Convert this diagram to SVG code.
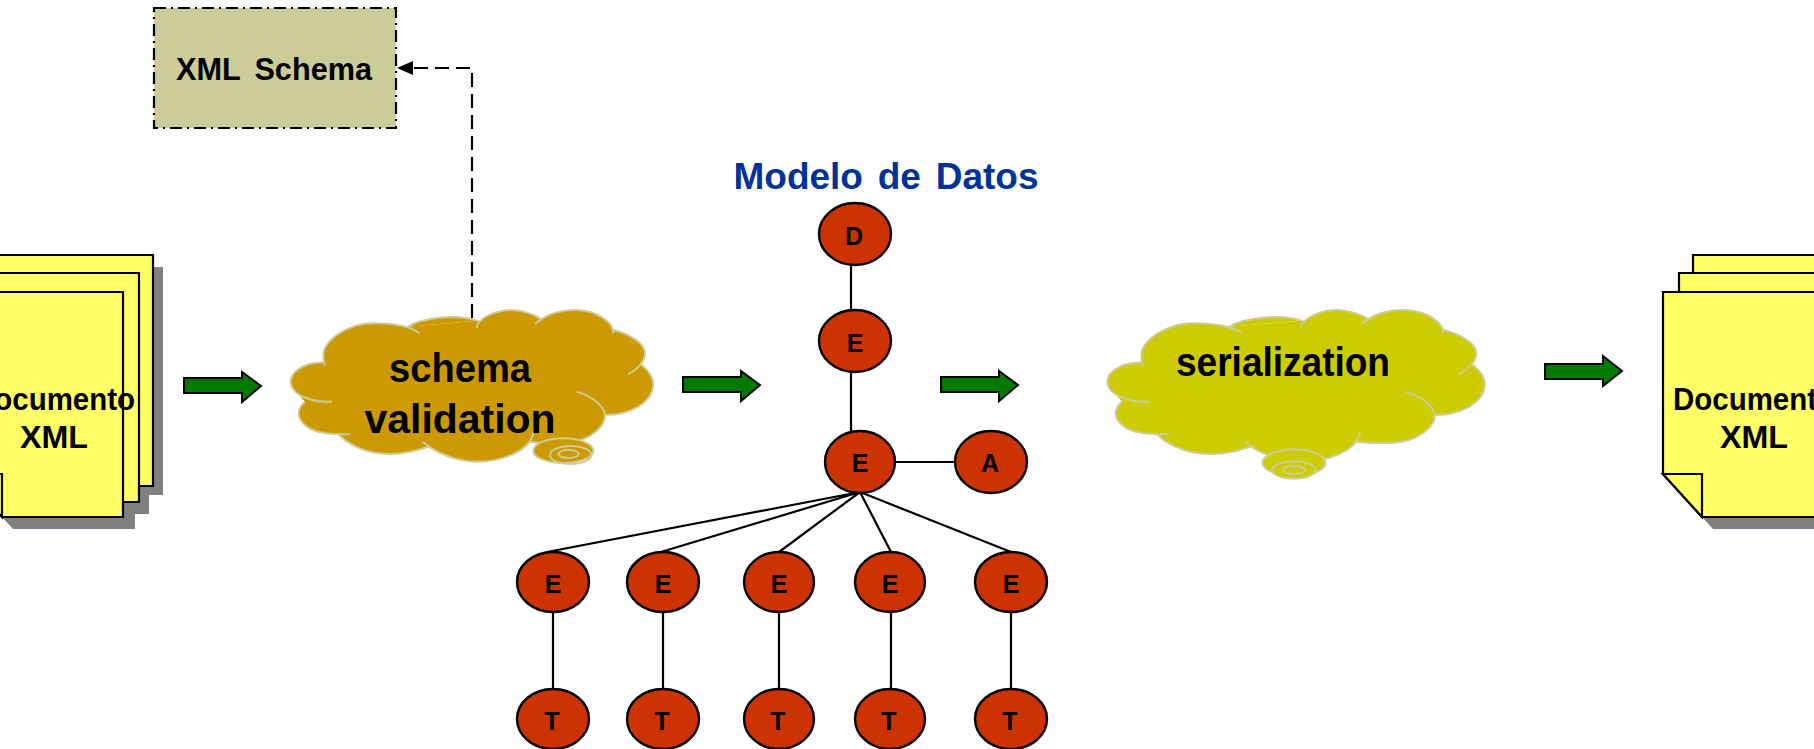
<svg xmlns="http://www.w3.org/2000/svg" xmlns:xlink="http://www.w3.org/1999/xlink" width="1814" height="749" viewBox="0 0 1814 749">
<style>
text{font-family:"Liberation Sans",Arial,sans-serif;font-weight:700;fill:#000;text-anchor:middle}
.sheet{fill:#ffff66;stroke:#000;stroke-width:2.2}
.shadow{fill:#808080}
.arrow{fill:#007a00;stroke:#000;stroke-width:2}
.node ellipse{fill:#cc3300;stroke:#000;stroke-width:2.4}
.node text{font-size:25px}
.doc{font-size:32px}
.big{font-size:40px}
.edge{stroke:#000;stroke-width:2.2;fill:none}
.cs{fill:none;stroke:#cccc99;stroke-width:6}
</style>
<defs>
<path id="cloudLine" d="M135 228C128 215 132 200 130 190C140 140 220 95 290 100C340 100 395 110 418 130M385 110C420 85 530 70 590 92M590 115C590 85 650 58 700 60C730 62 765 75 780 85M765 102C800 70 850 58 890 60C950 62 1000 95 1000 130M1000 120C1060 135 1095 165 1095 190C1095 215 1070 240 1045 252M1085 225C1110 245 1120 265 1120 285C1115 340 1050 375 975 375M890 305C940 320 975 350 975 378C975 410 930 445 890 452C860 460 800 462 750 455M760 425C755 480 670 515 590 515C530 515 470 490 428 455M445 470C390 490 340 495 300 490C250 485 200 460 175 432M210 432C160 435 100 430 75 405C50 385 50 355 75 335M155 335C100 338 50 320 35 290C20 250 70 215 135 218"/>
<path id="cloudCore" d="M135 225L130 190L385 110L590 92L780 85L1000 125L1085 225L1100 300L975 375L890 452L750 455L590 515L470 485L445 472L300 490L175 432L75 405L75 335L35 290Z"/>
</defs>

<g id="connectors">
<g class="edge">
<path d="M851 262V312M851 370V432M896 462H955"/>
<path d="M860 492L547 552M860 492L661 552M860 492L779 552M860 492L891 552M860 492L1011 552"/>
<path d="M553 612V690M663 612V690M779 612V690M891 612V690M1011 612V690"/>
</g>
<path d="M472 318V68H412" fill="none" stroke="#000" stroke-width="2.2" stroke-dasharray="14 7"/>
<polygon points="397,68 413,61 413,75" fill="#000"/>
<polygon id="arrow1" class="arrow" points="184,378 242,378 242,372 261,386 242,402 242,393 184,393"/>
<polygon id="arrow2" class="arrow" points="683,377 741,377 741,371 760,385 741,401 741,392 683,392"/>
<polygon id="arrow3" class="arrow" points="941,377 999,377 999,371 1018,385 999,401 999,392 941,392"/>
<polygon id="arrow4" class="arrow" points="1545,364 1603,364 1603,356 1622,371 1603,386 1603,379 1545,379"/>
</g>

<g id="docIn">
<g class="shadow">
<polygon points="3,267 163,267 163,495 42,495 3,450"/>
<polygon points="-10,285 149,285 149,514 29,514 -10,470"/>
<polygon points="-26,304 135,304 135,529 13,529 -26,486"/>
</g>
<path class="sheet" d="M-7 255H153V486H32L-7 442Z"/>
<path class="sheet" d="M-21 273H139V502H18L-21 458Z"/>
<path class="sheet" d="M-37 292H123V517H2L-37 474Z"/>
<path class="sheet" d="M-37 474H2V517Z"/>
<text class="doc" x="54" y="410" textLength="162" lengthAdjust="spacingAndGlyphs">Documento</text>
<text class="doc" x="54" y="448" textLength="68" lengthAdjust="spacingAndGlyphs">XML</text>
</g>

<g id="docOut">
<g class="shadow">
<polygon points="1703,267 1863,267 1863,495 1742,495 1703,450"/>
<polygon points="1690,285 1849,285 1849,514 1729,514 1690,470"/>
<polygon points="1674,304 1835,304 1835,529 1713,529 1674,486"/>
</g>
<path class="sheet" d="M1693 255H1853V486H1732L1693 442Z"/>
<path class="sheet" d="M1679 273H1839V502H1718L1679 458Z"/>
<path class="sheet" d="M1663 292H1823V517H1702L1663 474Z"/>
<path class="sheet" d="M1663 474H1702V517Z"/>
<text class="doc" x="1754" y="410" textLength="162" lengthAdjust="spacingAndGlyphs">Documento</text>
<text class="doc" x="1754" y="448" textLength="68" lengthAdjust="spacingAndGlyphs">XML</text>
</g>

<g id="xmlSchema">
<rect x="154" y="8" width="242" height="120" fill="#cccc99" stroke="#000" stroke-width="2.2" stroke-dasharray="12 5 2 5"/>
<text class="doc" x="274" y="80" textLength="196" lengthAdjust="spacingAndGlyphs" word-spacing="6">XML Schema</text>
</g>

<g id="schemaValidation">
<g transform="translate(280 290) scale(.33333)">
<use href="#cloudLine" fill="#cc9900"/>
<use href="#cloudCore" fill="#cc9900"/>
<use href="#cloudLine" class="cs"/>
<ellipse cx="850" cy="482" rx="90" ry="37" class="cs" style="fill:#cc9900"/>
<ellipse cx="872" cy="495" rx="62" ry="27" class="cs"/>
<ellipse cx="866" cy="492" rx="30" ry="12" class="cs"/>
</g>
<text class="big" x="460" y="382" textLength="142" lengthAdjust="spacingAndGlyphs">schema</text>
<text class="big" x="460" y="433" textLength="191" lengthAdjust="spacingAndGlyphs">validation</text>
</g>

<g id="serialization">
<g transform="translate(1096.25 290) scale(.347 .33333)">
<use href="#cloudLine" fill="#cccc00"/>
<use href="#cloudCore" fill="#cccc00"/>
<use href="#cloudLine" class="cs"/>
</g>
<g transform="translate(1090 290) scale(.33333)">
<ellipse cx="612" cy="518" rx="94" ry="40" class="cs" style="fill:#cccc00"/>
<ellipse cx="612" cy="540" rx="65" ry="26" class="cs" style="fill:#cccc00"/>
<ellipse cx="612" cy="540" rx="33" ry="12" class="cs"/>
</g>
<text class="big" x="1283" y="376" textLength="214" lengthAdjust="spacingAndGlyphs">serialization</text>
</g>

<text id="modelo" x="886" y="189" word-spacing="4.5" style="fill:#003399;font-size:37px">Modelo de Datos</text>

<g id="nD" class="node"><ellipse cx="855" cy="234" rx="36" ry="31"/><text x="854" y="245">D</text></g>
<g id="nE0" class="node"><ellipse cx="855" cy="341" rx="36" ry="31"/><text x="855" y="352">E</text></g>
<g id="nE" class="node"><ellipse cx="860" cy="462" rx="35" ry="31"/><text x="860" y="472">E</text></g>
<g id="nA" class="node"><ellipse cx="991" cy="462" rx="36" ry="31"/><text x="990" y="472">A</text></g>
<g id="nE1" class="node"><ellipse cx="553" cy="582" rx="36" ry="30"/><text x="553" y="593">E</text></g>
<g id="nE2" class="node"><ellipse cx="663" cy="582" rx="36" ry="30"/><text x="663" y="593">E</text></g>
<g id="nE3" class="node"><ellipse cx="779" cy="582" rx="35" ry="30"/><text x="779" y="593">E</text></g>
<g id="nE4" class="node"><ellipse cx="890" cy="582" rx="35" ry="30"/><text x="890" y="593">E</text></g>
<g id="nE5" class="node"><ellipse cx="1011" cy="582" rx="36" ry="30"/><text x="1011" y="593">E</text></g>
<g id="nT1" class="node"><ellipse cx="553" cy="719" rx="36" ry="30"/><text x="552" y="730">T</text></g>
<g id="nT2" class="node"><ellipse cx="663" cy="719" rx="36" ry="30"/><text x="662" y="730">T</text></g>
<g id="nT3" class="node"><ellipse cx="779" cy="719" rx="35" ry="30"/><text x="778" y="730">T</text></g>
<g id="nT4" class="node"><ellipse cx="890" cy="719" rx="35" ry="30"/><text x="889" y="730">T</text></g>
<g id="nT5" class="node"><ellipse cx="1011" cy="719" rx="36" ry="30"/><text x="1010" y="730">T</text></g>
</svg>
